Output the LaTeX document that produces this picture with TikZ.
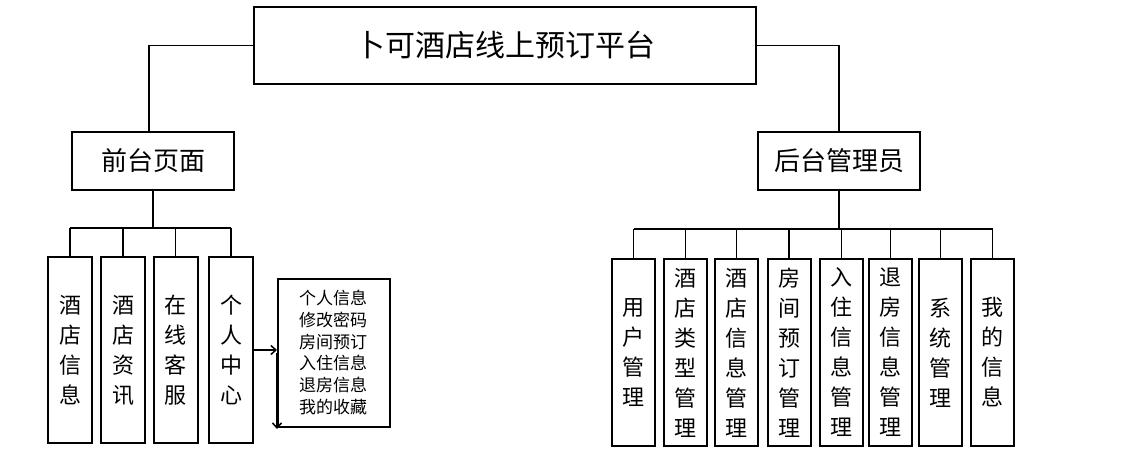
\documentclass[tikz,border=0pt]{standalone}
\usepackage{fontspec}
\setmainfont{Noto Sans CJK SC}
\usetikzlibrary{arrows.meta}
\begin{document}
\begin{tikzpicture}[x=1pt,y=-1pt,
  topbox/.style={draw,line width=1.5pt,inner sep=0pt,anchor=center},
  colbox/.style={draw,line width=2pt,inner sep=0pt,minimum height=186pt,align=center,font=\fontsize{22}{30}\selectfont},
  conn/.style={line width=1.5pt},
  arr/.style={line width=1.5pt,-{Straight Barb[length=5pt,width=9pt]}}]
\useasboundingbox (0,0) rectangle (1128,455);
% top level
\node[topbox,minimum width=502pt,minimum height=77pt,font=\fontsize{30}{36}\selectfont] (title) at (505,45.5) {卜可酒店线上预订平台};
\node[topbox,minimum width=162pt,minimum height=58pt,font=\fontsize{26}{30}\selectfont] (qt) at (153,161) {前台页面};
\node[topbox,minimum width=162pt,minimum height=58pt,font=\fontsize{26}{30}\selectfont] (ht) at (839,161) {后台管理员};
\draw[conn] (title.west) -| ([xshift=-4pt]qt.north);
\draw[conn] (title.east) -| (ht.north);
% left columns
\node[colbox,minimum width=44pt] (l1) at (70,350) {酒\\店\\信\\息};
\node[colbox,minimum width=44pt] (l2) at (123,350) {酒\\店\\资\\讯};
\node[colbox,minimum width=44pt] (l3) at (175.5,350) {在\\线\\客\\服};
\node[colbox,minimum width=44pt] (l4) at (231,350) {个\\人\\中\\心};
\coordinate (lbus) at (0,228);
\draw[conn] (qt.south) -- (qt.south |- lbus);
\draw[conn] (l1.north |- lbus) -- (l4.north |- lbus);
\foreach \n in {l1,l2,l3,l4} \draw[conn] (\n.north |- lbus) -- (\n.north);
% list box
\node[draw,line width=2pt,minimum width=112pt,minimum height=148pt,inner sep=0pt] (lb) at (334,353) {};
\node[align=left,font=\fontsize{17}{21.7}\selectfont,inner sep=0pt,anchor=west] (lt) at (299,352.5) {个人信息\\修改密码\\房间预订\\入住信息\\退房信息\\我的收藏};
\draw[arr] (l4.east) -- (l4.east -| lb.west);
\draw[arr] (lb.west) -- ([yshift=-1pt]lb.south west);
% right columns
\node[colbox,minimum width=43pt,minimum height=187pt] (r1) at (633.5,352.5) {用\\户\\管\\理};
\node[colbox,minimum width=43pt,minimum height=187pt] (r2) at (685.5,352.5) {酒\\店\\类\\型\\管\\理};
\node[colbox,minimum width=43pt,minimum height=187pt] (r3) at (736.5,352.5) {酒\\店\\信\\息\\管\\理};
\node[colbox,minimum width=43pt,minimum height=187pt] (r4) at (789,352.5) {房\\间\\预\\订\\管\\理};
\node[colbox,minimum width=43pt,minimum height=187pt] (r5) at (841.5,352.5) {入\\住\\信\\息\\管\\理};
\node[colbox,minimum width=43pt,minimum height=187pt] (r6) at (890.5,352.5) {退\\房\\信\\息\\管\\理};
\node[colbox,minimum width=43pt,minimum height=187pt] (r7) at (940.5,352.5) {系\\统\\管\\理};
\node[colbox,minimum width=43pt,minimum height=187pt] (r8) at (992.5,352.5) {我\\的\\信\\息};
\coordinate (rbus) at (0,229);
\draw[conn] (ht.south) -- (ht.south |- rbus);
\draw[conn] (r1.north |- rbus) -- (r8.north |- rbus);
\foreach \n in {r1,r2,r3,r4,r5,r6,r7,r8} \draw[conn] (\n.north |- rbus) -- (\n.north);
\end{tikzpicture}
\end{document}
